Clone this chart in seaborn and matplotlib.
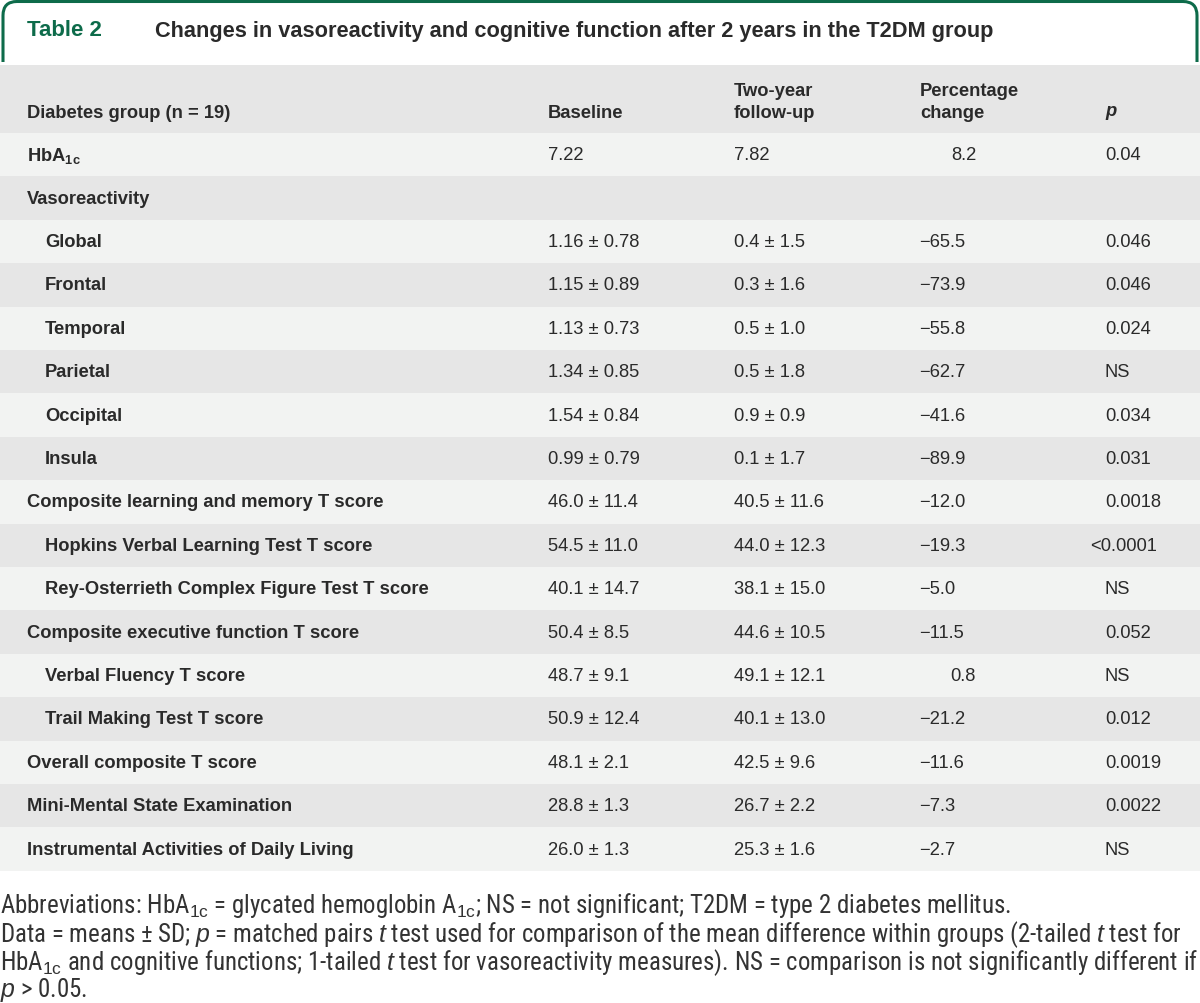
import numpy as np
import matplotlib
matplotlib.use("Agg")
import matplotlib.pyplot as plt
from matplotlib.path import Path
from matplotlib.patches import PathPatch
from matplotlib.colors import ListedColormap
from matplotlib import font_manager
import seaborn as sns

# ---------------- data ----------------
title_tag = "Table 2"
title_text = "Changes in vasoreactivity and cognitive function after 2 years in the T2DM group"
col_headers = ["Diabetes group (n = 19)", "Baseline", "Two-year\nfollow-up", "Percentage\nchange", "$\\mathbfit{p}$"]

row_labels = ["HbA$_{\\mathbf{1c}}$", "Vasoreactivity", "Global", "Frontal", "Temporal", "Parietal",
              "Occipital", "Insula", "Composite learning and memory T score",
              "Hopkins Verbal Learning Test T score", "Rey-Osterrieth Complex Figure Test T score",
              "Composite executive function T score", "Verbal Fluency T score",
              "Trail Making Test T score", "Overall composite T score",
              "Mini-Mental State Examination", "Instrumental Activities of Daily Living"]
row_indent = [0, 0, 1, 1, 1, 1, 1, 1, 0, 1, 1, 0, 1, 1, 0, 0, 0]
baseline = ["7.22", "", "1.16 ± 0.78", "1.15 ± 0.89", "1.13 ± 0.73", "1.34 ± 0.85", "1.54 ± 0.84",
            "0.99 ± 0.79", "46.0 ± 11.4", "54.5 ± 11.0", "40.1 ± 14.7", "50.4 ± 8.5", "48.7 ± 9.1",
            "50.9 ± 12.4", "48.1 ± 2.1", "28.8 ± 1.3", "26.0 ± 1.3"]
followup = ["7.82", "", "0.4 ± 1.5", "0.3 ± 1.6", "0.5 ± 1.0", "0.5 ± 1.8", "0.9 ± 0.9",
            "0.1 ± 1.7", "40.5 ± 11.6", "44.0 ± 12.3", "38.1 ± 15.0", "44.6 ± 10.5", "49.1 ± 12.1",
            "40.1 ± 13.0", "42.5 ± 9.6", "26.7 ± 2.2", "25.3 ± 1.6"]
pct_change = ["8.2", "", "−65.5", "−73.9", "−55.8", "−62.7", "−41.6", "−89.9", "−12.0", "−19.3",
              "−5.0", "−11.5", "0.8", "−21.2", "−11.6", "−7.3", "−2.7"]
p_values = ["0.04", "", "0.046", "0.046", "0.024", "NS", "0.034", "0.031", "0.0018", "<0.0001",
            "NS", "0.052", "NS", "0.012", "0.0019", "0.0022", "NS"]

footnotes = [
    "Abbreviations: HbA$_{\\mathrm{1c}}$ = glycated hemoglobin A$_{\\mathrm{1c}}$; NS = not significant; T2DM = type 2 diabetes mellitus.",
    "Data = means ± SD; $p$ = matched pairs $t$ test used for comparison of the mean difference within groups (2-tailed $t$ test for",
    "HbA$_{\\mathrm{1c}}$ and cognitive functions; 1-tailed $t$ test for vasoreactivity measures). NS = comparison is not significantly different if",
    "$p$ > 0.05.",
]

# ---------------- style ----------------
sns.set_theme(style="white")
available = {f.name for f in font_manager.fontManager.ttflist}
main_font = "Liberation Sans" if "Liberation Sans" in available else "DejaVu Sans"
narrow_font = None
for cand in ["Liberation Sans Narrow", "Roboto Condensed", "Open Sans Condensed", "Roboto"]:
    if cand in available:
        narrow_font = cand
        break
if narrow_font is None:
    narrow_font = main_font

plt.rcParams["font.family"] = [main_font, "DejaVu Sans"]
plt.rcParams["mathtext.fontset"] = "custom"
plt.rcParams["mathtext.rm"] = main_font
plt.rcParams["mathtext.it"] = main_font + ":italic"
plt.rcParams["mathtext.bf"] = main_font + ":bold"
plt.rcParams["mathtext.bfit"] = main_font + ":bold:italic"

W, H = 1200, 1004
DPI = 100
fig = plt.figure(figsize=(W / DPI, H / DPI), dpi=DPI)
fig.patch.set_facecolor("white")

GREEN = "#0d6b4a"
TXT = "#2a2a2a"
FOOT = "#333333"
LIGHT = "#f2f3f2"
GRAY = "#e6e6e6"

header_top, header_bot = 66, 134
n_rows = len(row_labels)
row_h = 43.4
body_bot = header_bot + n_rows * row_h

# body stripes via seaborn heatmap
ax_body = fig.add_axes([0, 1 - body_bot / H, 1, (body_bot - header_bot) / H])
stripe = np.array([[i % 2] for i in range(n_rows)])
sns.heatmap(stripe, ax=ax_body, cmap=ListedColormap([LIGHT, GRAY]), cbar=False,
            xticklabels=False, yticklabels=False, linewidths=0)
ax_body.set_axis_off()

# overlay axes in pixel coordinates
ax = fig.add_axes([0, 0, 1, 1], facecolor="none")
ax.set_xlim(0, W)
ax.set_ylim(H, 0)
ax.set_axis_off()

# header band
ax.axhspan(header_top, header_bot, color=GRAY, lw=0, zorder=0)

# title frame (rounded top corners)
r = 14
x0, x1, yt, yb = 3, 1197, 2.5, 63
verts = [(x0, yb), (x0, yt + r), (x0, yt), (x0 + r, yt), (x1 - r, yt), (x1, yt), (x1, yt + r), (x1, yb)]
codes = [Path.MOVETO, Path.LINETO, Path.CURVE3, Path.CURVE3, Path.LINETO, Path.CURVE3, Path.CURVE3, Path.LINETO]
ax.add_patch(PathPatch(Path(verts, codes), fill=False, edgecolor=GREEN, lw=2.2, capstyle="butt"))

ax.text(27, 31, title_tag, color=GREEN, fontsize=16, fontweight="bold", va="center", ha="left")
title_obj = ax.text(155, 31, title_text, color=TXT, fontsize=14.5, fontweight="bold", va="center", ha="left")

# column headers
FS = 13.2
col_x = [27, 548, 734, 920, 1105]
for cx, hdr in zip(col_x, col_headers):
    lines = hdr.split("\n")
    for k, line in enumerate(lines):
        yy = 113 - (len(lines) - 1 - k) * 22
        ax.text(cx, yy, line, color=TXT, fontsize=FS, fontweight="bold", va="center", ha="left")

# body rows
for i in range(n_rows):
    yc = header_bot + (i + 0.5) * row_h
    lx = 45 if row_indent[i] else 27
    ax.text(lx, yc, row_labels[i], color=TXT, fontsize=FS, fontweight="bold", va="center", ha="left")
    ax.text(548, yc, baseline[i], color=TXT, fontsize=FS, va="center", ha="left")
    ax.text(734, yc, followup[i], color=TXT, fontsize=FS, va="center", ha="left")
    pc = pct_change[i]
    if pc.startswith("−"):
        ax.text(919, yc, pc, color=TXT, fontsize=FS, va="center", ha="left")
    elif pc:
        ax.text(976, yc, pc, color=TXT, fontsize=FS, va="center", ha="right")
    pv = p_values[i]
    px = 1090 if pv.startswith("<") else 1105
    ax.text(px, yc, pv, color=TXT, fontsize=FS, va="center", ha="left")

# footnotes
foot_y = [906, 935, 963, 990]
foot_objs = []
for yy, line in zip(foot_y, footnotes):
    t = ax.text(0, yy, line, color=FOOT, fontsize=13, va="center", ha="left", family=[narrow_font, "DejaVu Sans"])
    foot_objs.append(t)

# fit footnote size so the longest line spans the width like the reference
fig.canvas.draw()
renderer = fig.canvas.get_renderer()
wmax = max(t.get_window_extent(renderer).width for t in foot_objs)
scale = 1194 / wmax
for t in foot_objs:
    t.set_fontsize(13 * scale)

# fit title width to reference (155 -> 995)
tw = title_obj.get_window_extent(renderer).width
title_obj.set_fontsize(14.5 * min(1.1, 840 / tw))

fig.savefig("out.png", dpi=DPI, facecolor="white")
